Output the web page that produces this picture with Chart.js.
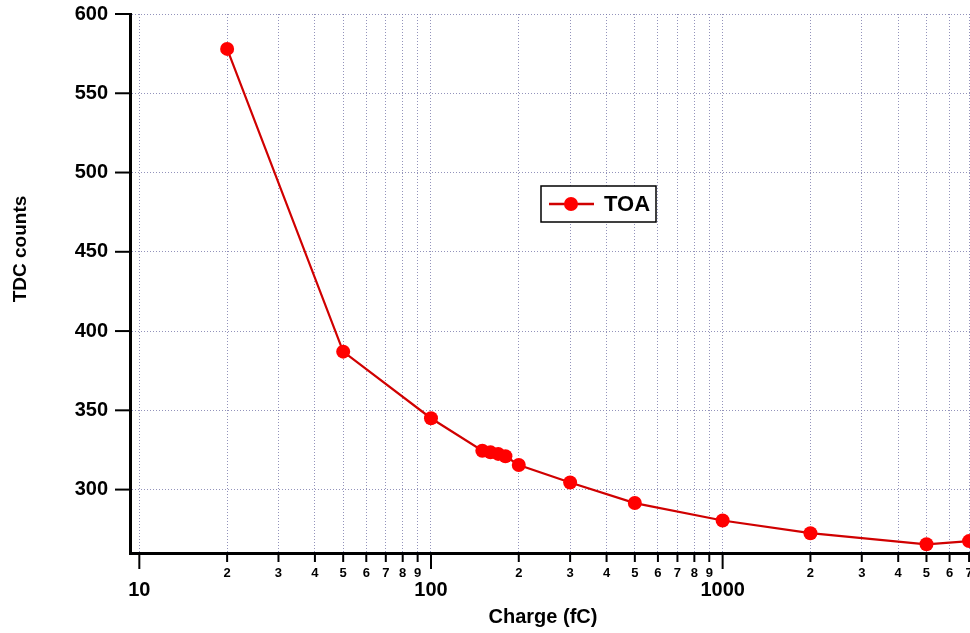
<!DOCTYPE html>
<html>
<head>
<meta charset="utf-8">
<script src="https://cdn.jsdelivr.net/npm/chart.js@4"></script>
<style>
  html, body { margin: 0; padding: 0; background: #fff; }
  #wrap { width: 970px; height: 633px; }
</style>
</head>
<body>
<div id="wrap"><canvas id="toa_chart"></canvas></div>
<script>
// Charge scan (fC) and measured TOA (TDC counts)
const charges = [20, 50, 100, 150, 160, 170, 180, 200, 300, 500, 1000, 2000, 5000, 7000]
const toaCounts = [578, 387, 345, 324.5, 323.5, 322.5, 321, 315.5, 304.5, 291.5, 280.5, 272.5, 265.5, 267.5]
// Axis ticks
const xTicks = [10, 20, 30, 40, 50, 60, 70, 80, 90, 100, 200, 300, 400, 500, 600, 700, 800, 900, 1000, 2000, 3000, 4000, 5000, 6000, 7000]
const yTicks = [300, 350, 400, 450, 500, 550, 600]
const seriesLabel = 'TOA'

const FONT = '"Liberation Sans", Arial, sans-serif'
const LINE_RED = '#d00000'
const POINT_RED = '#ff0000'

const isMajor = v => Math.abs(Math.log10(v) - Math.round(Math.log10(v))) < 1e-9

// Tick marks, axis titles and the boxed legend
const decorations = {
    id: 'decorations',
    afterDraw(chart) {
        const ctx = chart.ctx
        const area = chart.chartArea
        const xs = chart.scales.x
        const ys = chart.scales.y
        ctx.save()
        ctx.strokeStyle = '#000'
        ctx.lineWidth = 2
        // y ticks, outward
        ys.ticks.forEach(t => {
            const py = ys.getPixelForValue(t.value)
            ctx.beginPath()
            ctx.moveTo(area.left - 15, py)
            ctx.lineTo(area.left, py)
            ctx.stroke()
        })
        // x ticks, majors longer
        xs.ticks.forEach(t => {
            const px = xs.getPixelForValue(t.value)
            ctx.beginPath()
            ctx.moveTo(px, area.bottom)
            ctx.lineTo(px, area.bottom + (isMajor(t.value) ? 16 : 9))
            ctx.stroke()
        })
        // axis titles
        ctx.fillStyle = '#000'
        ctx.font = 'bold 20px ' + FONT
        ctx.textAlign = 'center'
        ctx.textBaseline = 'middle'
        ctx.fillText('Charge (fC)', area.left + 413, area.bottom + 64)
        ctx.save()
        ctx.translate(21, area.top + 235)
        ctx.rotate(-Math.PI / 2)
        ctx.font = 'bold 19px ' + FONT
        ctx.fillText('TDC counts', 0, 0)
        ctx.restore()
        // legend box
        const lx = area.left + 411
        const ly = area.top + 172
        ctx.lineWidth = 1.5
        ctx.strokeStyle = '#000'
        ctx.fillStyle = '#fff'
        ctx.fillRect(lx, ly, 115, 36)
        ctx.strokeRect(lx, ly, 115, 36)
        ctx.strokeStyle = LINE_RED
        ctx.lineWidth = 2.5
        ctx.beginPath()
        ctx.moveTo(lx + 8, ly + 18)
        ctx.lineTo(lx + 53, ly + 18)
        ctx.stroke()
        ctx.fillStyle = POINT_RED
        ctx.beginPath()
        ctx.arc(lx + 30, ly + 18, 7, 0, Math.PI * 2)
        ctx.fill()
        ctx.fillStyle = '#000'
        ctx.font = 'bold 22px ' + FONT
        ctx.textAlign = 'left'
        ctx.fillText(seriesLabel, lx + 63, ly + 19)
        ctx.restore()
    }
}

const ctx = document.getElementById('toa_chart').getContext('2d')
const toaChart = new Chart(ctx, {
    type: 'line',
    data: {
        datasets: [{
            label: seriesLabel,
            data: charges.map((c, i) => ({ x: c, y: toaCounts[i] })),
            borderColor: LINE_RED,
            borderWidth: 2.2,
            backgroundColor: POINT_RED,
            pointBackgroundColor: POINT_RED,
            pointBorderColor: POINT_RED,
            pointBorderWidth: 0,
            pointRadius: 7,
            tension: 0,
            clip: false
        }]
    },
    options: {
        responsive: true,
        maintainAspectRatio: false,
        animation: false,
        layout: { autoPadding: false, padding: { top: 14, right: 0, left: 0, bottom: 0 } },
        plugins: {
            legend: { display: false },
            tooltip: { enabled: false }
        },
        scales: {
            x: {
                type: 'logarithmic',
                min: 9.29,
                max: 7050,
                afterBuildTicks: scale => {
                    scale.ticks = xTicks.map(v => ({ value: v, major: isMajor(v) }))
                },
                afterFit: scale => {
                    scale.height = 80
                    scale.paddingLeft = 0
                    scale.paddingRight = 0
                },
                grid: {
                    color: 'rgba(120,120,170,0.8)',
                    lineWidth: 1,
                    drawTicks: false
                },
                border: { display: true, color: '#000', width: 3, dash: [1, 2] },
                ticks: {
                    autoSkip: false,
                    maxRotation: 0,
                    padding: 13,
                    color: '#000',
                    font: c => {
                        const v = c.tick ? c.tick.value : 1
                        return isMajor(v)
                            ? { family: FONT, size: 20, weight: 'bold', lineHeight: 0.8 }
                            : { family: FONT, size: 13, weight: 'bold', lineHeight: 1.2 }
                    },
                    callback: v => {
                        if (isMajor(v)) return ['', String(v)]
                        return String(Math.round(v / Math.pow(10, Math.floor(Math.log10(v) + 1e-9))))
                    }
                }
            },
            y: {
                type: 'linear',
                min: 260,
                max: 600,
                afterBuildTicks: scale => {
                    scale.ticks = yTicks.map(v => ({ value: v }))
                },
                afterFit: scale => {
                    scale.width = 130
                    scale.paddingTop = 0
                    scale.paddingBottom = 0
                },
                grid: {
                    color: 'rgba(120,120,170,0.8)',
                    lineWidth: 1,
                    drawTicks: false
                },
                border: { display: true, color: '#000', width: 3, dash: [1, 2] },
                ticks: {
                    padding: 22,
                    color: '#000',
                    font: { family: FONT, size: 20, weight: 'bold' }
                }
            }
        }
    },
    plugins: [decorations]
})
</script>
</body>
</html>
